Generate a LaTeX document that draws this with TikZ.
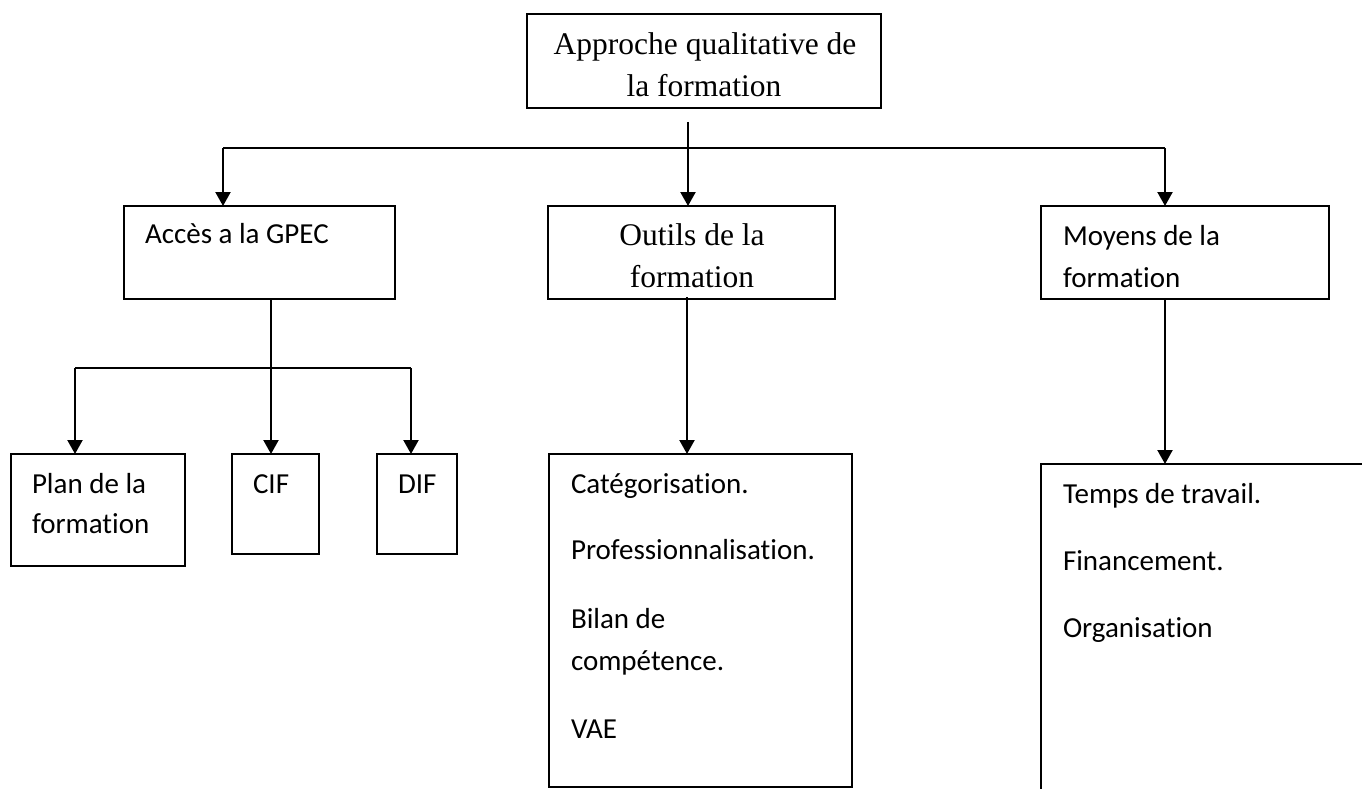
\documentclass[tikz,border=0pt]{standalone}
\usepackage{fontspec}
\setmainfont{Liberation Serif}
\newfontfamily\calib[Ligatures=NoCommon]{Carlito}
\usetikzlibrary{arrows.meta}

\tikzset{
  box/.style={draw=black, line width=1.6pt, rectangle, inner sep=0pt, outer sep=0pt, fill=none},
  serif/.style={inner sep=0pt, outer sep=0pt, font=\fontsize{31.5}{38}\selectfont},
  sans/.style={inner sep=0pt, outer sep=0pt, font=\calib\fontsize{29}{35}\selectfont},
  conn/.style={draw=black, line width=2.2pt},
  arr/.style={conn, -{Triangle[width=15pt,length=14pt]}},
}

\begin{document}
\begin{tikzpicture}[x=1pt,y=-1pt]
\useasboundingbox (0,0) rectangle (1362,789);
\clip (0,0) rectangle (1362,789);
\fill[white] (0,0) rectangle (1362,789);

% top level box
\node[box, anchor=north west, minimum width=354pt, minimum height=94pt] (root) at (527,14) {};
\node[serif, anchor=base] (rootA) at (705,55) {Approche qualitative de};
\node[serif, anchor=base] (rootB) at (704,97) {la formation};

% second level boxes
\node[box, anchor=north west, minimum width=271pt, minimum height=93pt] (acces) at (124,206) {};
\node[sans, anchor=base west] (accesT) at (145,243) {Accès a la GPEC};

\node[box, anchor=north west, minimum width=287pt, minimum height=93pt] (outils) at (548,206) {};
\node[serif, anchor=base] (outilsA) at (692,245) {Outils de la};
\node[serif, anchor=base] (outilsB) at (692,287) {formation};

\node[box, anchor=north west, minimum width=288pt, minimum height=93pt] (moyens) at (1041,206) {};
\node[sans, anchor=base west] (moyensA) at (1063,245) {Moyens de la};
\node[sans, anchor=base west] (moyensB) at (1063,287) {formation};

% third level under Accès
\node[box, anchor=north west, minimum width=174pt, minimum height=112pt] (plan) at (11,454) {};
\node[sans, anchor=base west] (planA) at (32,493) {Plan de la};
\node[sans, anchor=base west] (planB) at (32,533) {formation};

\node[box, anchor=north west, minimum width=87pt, minimum height=100pt] (cif) at (232,454) {};
\node[sans, anchor=base west] (cifT) at (253,493) {CIF};

\node[box, anchor=north west, minimum width=80pt, minimum height=100pt] (dif) at (377,454) {};
\node[sans, anchor=base west] (difT) at (398,493) {DIF};

% list of tools
\node[box, anchor=north west, minimum width=303pt, minimum height=333pt] (outList) at (549,454) {};
\node[sans, anchor=base west] (o1) at (571,493) {Catégorisation.};
\node[sans, anchor=base west] (o2) at (571,559) {Professionnalisation.};
\node[sans, anchor=base west] (o3) at (571,628) {Bilan de};
\node[sans, anchor=base west] (o4) at (571,670) {compétence.};
\node[sans, anchor=base west] (o5) at (571,738) {VAE};

% list of means (runs past the page edge)
\node[box, anchor=north west, minimum width=400pt, minimum height=400pt] (moyList) at (1041,464) {};
\node[sans, anchor=base west] (m1) at (1063,503) {Temps de travail.};
\node[sans, anchor=base west] (m2) at (1063,570) {Financement.};
\node[sans, anchor=base west] (m3) at (1063,637) {Organisation};

% connectors from the top box
\coordinate (trunk) at (688,122);
\coordinate (busL) at (223,148);
\coordinate (busR) at (1165,148);
\draw[conn] (busL) -- (busR);
\draw[arr] (trunk) -- (trunk |- outils.north);
\draw[arr] (busL) -- (busL |- acces.north);
\draw[arr] (busR) -- (busR |- moyens.north);

% connectors under Accès
\coordinate (aDrop) at (271,368);
\coordinate (aL) at (75,368);
\coordinate (aR) at (411,368);
\draw[conn] (aL) -- (aR);
\draw[arr] (aDrop |- acces.south) -- (aDrop |- cif.north);
\draw[arr] (aL) -- (aL |- plan.north);
\draw[arr] (aR) -- (aR |- dif.north);

% connectors to the lists
\coordinate (oDrop) at (687,297);
\draw[arr] (oDrop) -- (oDrop |- outList.north);
\coordinate (mDrop) at (1165,299);
\draw[arr] (mDrop) -- (mDrop |- moyList.north);
\end{tikzpicture}
\end{document}
